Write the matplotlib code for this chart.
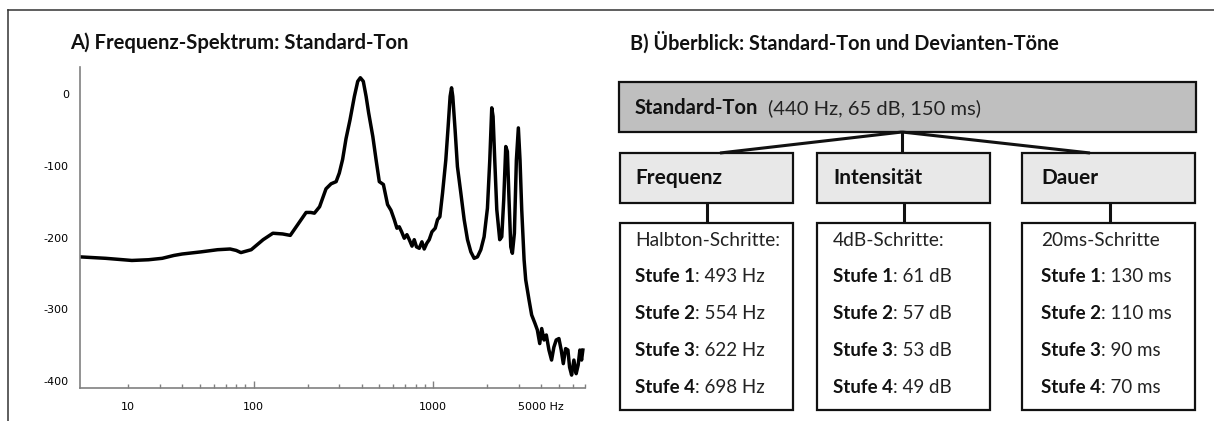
import matplotlib.pyplot as plt
from matplotlib.patches import Rectangle
from matplotlib.ticker import FixedLocator, FixedFormatter
from matplotlib.transforms import ScaledTranslation

# spectrum of the standard tone (Hz, dB)
freq_hz = [10.8, 15, 21, 26, 31, 36, 40, 51, 63, 74, 80, 85, 97, 113, 128, 145, 160,
           176, 196, 208, 218, 233, 253, 270, 288, 300, 313, 327, 344, 364, 380, 393,
           408, 423, 437, 461, 481, 501, 528, 557, 582, 607, 628, 647, 667, 690, 714,
           736, 762, 784, 807, 836, 865, 891, 921, 950, 984, 1026, 1057, 1089, 1127,
           1175, 1211, 1242, 1265, 1285, 1324, 1364, 1425, 1487, 1552, 1620, 1690,
           1763, 1841, 1920, 2004, 2065, 2118, 2154, 2201, 2259, 2346, 2408, 2470,
           2535, 2588, 2643, 2703, 2759, 2831, 2904, 2979, 3043, 3110, 3206, 3273,
           3415, 3532, 3688, 3800, 3918, 4018, 4140, 4263, 4409, 4560, 4697, 4840,
           5010, 5160, 5300, 5460, 5623, 5745, 5896, 6070, 6250, 6412, 6556, 6700, 6810]
level_db = [-217, -219, -222, -221, -219, -215, -213, -210, -207, -206, -208, -211, -207,
            -193, -184, -185, -187, -172, -155, -155, -156, -147, -122, -115, -112, -100,
            -81, -52, -26, 7, 28, 33, 28, 7, -16, -49, -82, -112, -116, -144, -152, -165,
            -177, -175, -182, -191, -186, -193, -202, -193, -203, -205, -196, -206, -198,
            -193, -182, -177, -165, -161, -128, -82, -35, 7, 19, 7, -40, -91, -128, -165,
            -193, -210, -219, -217, -207, -189, -149, -82, -9, -21, -82, -151, -193, -189,
            -137, -63, -70, -137, -203, -212, -184, -82, -37, -82, -151, -221, -249, -277,
            -298, -310, -319, -338, -317, -333, -326, -347, -361, -343, -333, -331, -347,
            -366, -345, -347, -371, -382, -361, -380, -368, -347, -361, -347]

y_ticks = [0, -100, -200, -300, -400]
major_x = [100, 1000]
major_x_labels = ["100", "1000"]
minor_x = [20, 30, 40, 50, 60, 70, 80, 90, 200, 300, 400, 500, 600, 700, 800, 900,
           2000, 3000, 4000, 5000, 6000, 7000]
minor_x_labels = ["10", "", "", "", "", "", "", "", "", "", "", "", "", "", "", "",
                  "", "", "5000 Hz", "", "", ""]

# panel B content
standard_name = "Standard-Ton"
standard_desc = "(440 Hz, 65 dB, 150 ms)"
dimensions = ["Frequenz", "Intensität", "Dauer"]
step_titles = ["Halbton-Schritte:", "4dB-Schritte:", "20ms-Schritte"]
step_values = [[493, 554, 622, 698], [61, 57, 53, 49], [130, 110, 90, 70]]
step_units = ["Hz", "dB", "ms"]

W, H = 1214, 421
FONT = "Lato"

fig = plt.figure(figsize=(W / 100, H / 100), dpi=100)

# overlay in pixel coordinates for frame, titles and the diagram
ov = fig.add_axes([0, 0, 1, 1])
ov.set_xlim(0, W)
ov.set_ylim(H, 0)
ov.axis("off")

ov.plot([8, W], [10, 10], color="#333333", lw=1.1)
ov.plot([8, 8], [10, H], color="#333333", lw=1.1)

ov.text(70, 43, "A) Frequenz-Spektrum: Standard-Ton", family=FONT, fontweight="bold",
        fontsize=14.6, va="center", ha="left", color="#111111")
ov.text(630, 43, "B) Überblick: Standard-Ton und Devianten-Töne", family=FONT,
        fontweight="bold", fontsize=14.3, va="center", ha="left", color="#111111")

# --- A) spectrum
ax = fig.add_axes([80 / W, 1 - 388 / H, 505 / W, (388 - 67) / H])
ax.plot(freq_hz, level_db, color="black", lw=2.5, solid_joinstyle="round")
ax.set_xscale("log")
ax.set_xlim(10.8, 7000)
ax.set_ylim(-400, 48)
for s in ["top", "right"]:
    ax.spines[s].set_visible(False)
for s in ["left", "bottom"]:
    ax.spines[s].set_color("#808080")
    ax.spines[s].set_linewidth(1.2)

ax.xaxis.set_major_locator(FixedLocator(major_x))
ax.xaxis.set_major_formatter(FixedFormatter(major_x_labels))
ax.xaxis.set_minor_locator(FixedLocator(minor_x))
ax.xaxis.set_minor_formatter(FixedFormatter(minor_x_labels))
ax.tick_params(axis="x", which="major", direction="in", length=5, width=1,
               color="#808080", pad=10, labelsize=8)
ax.tick_params(axis="x", which="minor", direction="in", length=3, width=1,
               color="#808080", pad=10, labelsize=8)
ax.set_yticks(y_ticks)
ax.set_yticklabels([str(v) for v in y_ticks])
ax.tick_params(axis="y", length=0, pad=8, labelsize=8)
shift = ScaledTranslation(0, 0.07, fig.dpi_scale_trans)
for lab in ax.get_yticklabels():
    lab.set_transform(lab.get_transform() + shift)

# --- B) overview diagram
edge = "#111111"
ov.add_patch(Rectangle((619, 82), 577, 50, facecolor="#bfbfbf", edgecolor=edge, lw=1.6))
ov.text(635, 108, standard_name, family=FONT, fontweight="bold", fontsize=14.5,
        va="center", ha="left", color="#111111")
ov.text(768, 108, standard_desc, family=FONT, fontsize=14.5, va="center", ha="left",
        color="#222222")

box_left = [620, 817, 1022]
box_w = 173
text_left = [635, 833, 1041]
stem_x = [707, 904, 1110]
top_targets = [720, 902, 1090]

for i, name in enumerate(dimensions):
    ov.plot([902, top_targets[i]], [132, 153], color=edge, lw=2.2, solid_capstyle="butt")
    ov.add_patch(Rectangle((box_left[i], 153), box_w, 50, facecolor="#e8e8e8",
                           edgecolor=edge, lw=1.6))
    ov.text(text_left[i], 178, name, family=FONT, fontweight="bold", fontsize=15,
            va="center", ha="left", color="#111111")
    ov.plot([stem_x[i], stem_x[i]], [203, 223], color=edge, lw=2.2, solid_capstyle="butt")
    ov.add_patch(Rectangle((box_left[i], 223), box_w, 187, facecolor="white",
                           edgecolor=edge, lw=1.6))
    ov.text(text_left[i], 240, step_titles[i], family=FONT, fontsize=13.8,
            va="center", ha="left", color="#222222")
    for k, val in enumerate(step_values[i]):
        y = 277 + k * 36.7
        b = ov.text(text_left[i], y, f"Stufe {k + 1}", family=FONT, fontweight="bold",
                    fontsize=13.5, va="center", ha="left", color="#111111")
        ov.annotate(f": {val} {step_units[i]}", xy=(1, 0.5), xycoords=b,
                    xytext=(0.3, 0), textcoords="offset points", family=FONT,
                    fontsize=13.5, va="center", ha="left", color="#222222")

fig.savefig("out.png", dpi=100)
